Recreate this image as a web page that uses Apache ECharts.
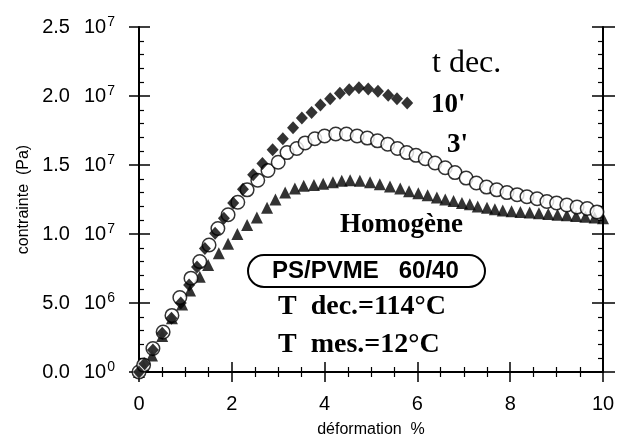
<html>
<head>
<meta charset="utf8">
<script src="https://cdn.jsdelivr.net/npm/echarts@6/dist/echarts.min.js"></script>
<style>body{margin:0;background:#fff;}</style>
</head>
<body>
<div id="main" style="width:628px;height:438px;"></div>
<script>
// stress in units of 1e6 Pa, strain in %
var x10 = [0,0.12,0.30,0.50,0.70,0.90,1.08,1.25,1.42,1.64,1.83,2.03,2.24,2.46,2.66,2.88,3.10,3.32,3.51,3.72,3.91,4.12,4.33,4.53,4.74,4.94,5.15,5.37,5.56,5.78];
var y10 = [0,0.6,1.6,2.8,3.9,5.0,6.3,7.6,8.95,10.05,11.15,12.25,13.25,14.3,15.1,16.1,16.9,17.7,18.4,18.8,19.35,19.8,20.2,20.45,20.6,20.5,20.35,20.05,19.8,19.5];

var x3 = [0,0.10,0.30,0.52,0.71,0.88,1.12,1.31,1.51,1.70,1.92,2.13,2.33,2.56,2.78,3.00,3.19,3.40,3.58,3.79,4.00,4.24,4.47,4.70,4.92,5.14,5.36,5.57,5.77,5.97,6.17,6.38,6.60,6.81,7.05,7.27,7.49,7.71,7.93,8.15,8.36,8.58,8.79,9.00,9.22,9.44,9.66,9.87];
var y3 = [0,0.5,1.7,2.9,4.1,5.4,6.8,8.0,9.2,10.4,11.4,12.3,13.2,13.9,14.6,15.2,15.9,16.2,16.6,16.9,17.1,17.25,17.25,17.1,16.95,16.75,16.5,16.2,15.9,15.7,15.45,15.15,14.8,14.45,14.05,13.7,13.4,13.2,13.0,12.85,12.7,12.55,12.35,12.25,12.1,11.95,11.85,11.6];

var xHom = [0,0.10,0.28,0.50,0.71,0.93,1.10,1.31,1.49,1.72,1.92,2.12,2.33,2.54,2.76,2.94,3.15,3.36,3.55,3.77,3.97,4.18,4.37,4.55,4.76,4.98,5.19,5.41,5.63,5.82,6.02,6.22,6.42,6.60,6.78,6.96,7.13,7.30,7.50,7.67,7.84,8.03,8.22,8.42,8.62,8.82,9.02,9.22,9.42,9.62,9.82,10.0];
var yHom = [0,0.4,1.2,2.6,3.9,4.9,5.9,6.9,7.75,8.6,9.3,10.0,10.65,11.2,11.9,12.5,13.0,13.3,13.5,13.55,13.65,13.75,13.85,13.9,13.85,13.75,13.6,13.45,13.3,13.1,12.95,12.8,12.65,12.5,12.4,12.25,12.15,12.0,11.9,11.8,11.7,11.65,11.6,11.55,11.5,11.45,11.4,11.35,11.3,11.25,11.2,11.15];

var yMant = ['0.0','5.0','1.0','1.5','2.0','2.5'];
var yExp = ['0','6','7','7','7','7'];

function pairs(xs, ys) {
	var out = [];
	for (var i = 0; i < xs.length; i++) out.push([xs[i], ys[i]]);
	return out;
}

var sans = 'Liberation Sans';
var black = '#000';

var chart = echarts.init(document.getElementById('main'));

var baseX = {
	type: 'value', min: 0, max: 10, interval: 2,
	axisLine: {lineStyle: {color: black, width: 2}},
	axisTick: {inside: true, length: 10, lineStyle: {color: black, width: 1.5}},
	minorTick: {show: true, splitNumber: 4, length: 5, lineStyle: {color: black, width: 1.2}},
	splitLine: {show: false}
};
var baseY = {
	type: 'value', min: 0, max: 25, interval: 5,
	axisLine: {show: true, lineStyle: {color: black, width: 2}},
	axisTick: {show: true, inside: true, length: 11, lineStyle: {color: black, width: 1.5}},
	minorTick: {show: true, splitNumber: 5, length: 5, lineStyle: {color: black, width: 1.2}},
	splitLine: {show: false}
};

var option = {
	backgroundColor: '#fff',
	animation: false,
	grid: {left: 139, right: 25, top: 27, bottom: 66, containLabel: false, outerBoundsMode: 'none'},
	xAxis: [
		echarts.util.merge({
			position: 'bottom',
			name: 'déformation  %', nameLocation: 'middle', nameGap: 50,
			nameTextStyle: {fontFamily: sans, fontSize: 16, color: black},
			axisLabel: {margin: 22, fontFamily: sans, fontSize: 20, color: black}
		}, baseX, true),
		echarts.util.merge({position: 'top', axisLabel: {show: false}}, baseX, true)
	],
	yAxis: [
		echarts.util.merge({
			position: 'left',
			name: 'contrainte  (Pa)', nameLocation: 'middle', nameGap: 106,
			nameTextStyle: {fontFamily: sans, fontSize: 16, color: black},
			axisLabel: {
				margin: 24, color: black,
				formatter: function (v) {
					var i = Math.round(v / 5);
					return '{n|' + yMant[i] + '}{m|10}{s|' + yExp[i] + '}';
				},
				rich: {
					n: {fontFamily: sans, fontSize: 20, lineHeight: 24, color: black},
					m: {fontFamily: sans, fontSize: 20, lineHeight: 24, color: black, padding: [0, 0, 0, 14]},
					s: {fontFamily: sans, fontSize: 14, lineHeight: 14, color: black, verticalAlign: 'bottom', padding: [0, 0, 10, 1]}
				}
			}
		}, baseY, true),
		{
			type: 'value', min: 0, max: 25, interval: 5, position: 'left',
			axisLine: {show: false}, axisLabel: {show: false}, splitLine: {show: false},
			axisTick: {show: true, inside: false, length: 10, lineStyle: {color: black, width: 1.5}}
		},
		echarts.util.merge({position: 'right', axisLabel: {show: false}}, baseY, true),
		{
			type: 'value', min: 0, max: 25, interval: 5, position: 'right',
			axisLine: {show: false}, axisLabel: {show: false}, splitLine: {show: false},
			axisTick: {show: true, inside: false, length: 12, lineStyle: {color: black, width: 1.5}}
		}
	],
	series: [
		{
			name: 'Homogène', type: 'scatter', symbol: 'triangle', symbolSize: [12, 12],
			itemStyle: {color: black},
			data: pairs(xHom, yHom)
		},
		{
			name: "3'", type: 'scatter', symbol: 'circle', symbolSize: 13.5,
			itemStyle: {color: '#fff', borderColor: black, borderWidth: 1.5},
			data: pairs(x3, y3)
		},
		{
			name: "10'", type: 'scatter', symbol: 'diamond', symbolSize: [12, 13],
			itemStyle: {color: black},
			data: pairs(x10, y10)
		}
	],
	graphic: [
		{type: 'text', left: 432, top: 48, style: {text: 't dec.', font: '32px "Liberation Serif"', fill: black}},
		{type: 'text', left: 431, top: 92, style: {text: "10'", font: 'bold 27px "Liberation Serif"', fill: black}},
		{type: 'text', left: 447, top: 132, style: {text: "3'", font: 'bold 27px "Liberation Serif"', fill: black}},
		{type: 'text', left: 340, top: 212, style: {text: 'Homogène', font: 'bold 27px "Liberation Serif"', fill: black}},
		{type: 'rect', shape: {x: 248, y: 255, width: 237, height: 32, r: 16}, style: {fill: 'none', stroke: black, lineWidth: 2}},
		{type: 'text', left: 272, top: 259, style: {text: 'PS/PVME   60/40', font: 'bold 24px "Liberation Sans"', fill: black}},
		{type: 'text', left: 278, top: 293, style: {text: 'T  dec.=114°C', font: 'bold 28px "Liberation Serif"', fill: black}},
		{type: 'text', left: 278, top: 331, style: {text: 'T  mes.=12°C', font: 'bold 28px "Liberation Serif"', fill: black}}
	]
};
chart.setOption(option);
</script>
</body>
</html>
